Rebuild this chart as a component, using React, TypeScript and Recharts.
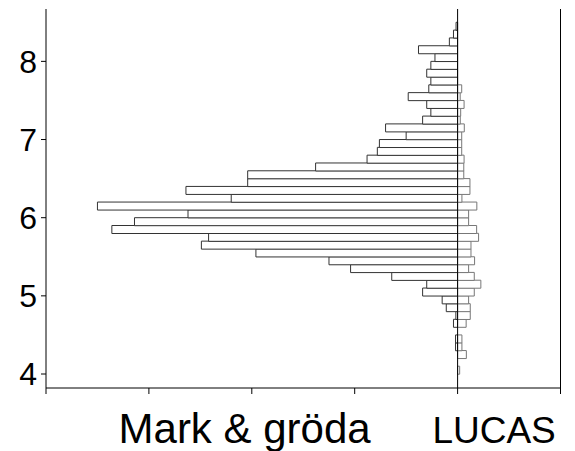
import React from 'react';
import { BarChart, Bar, XAxis, YAxis, ReferenceLine } from 'recharts';

// pH bins (lower bound), 0.1 wide
const binStarts = [
  4.0, 4.1, 4.2, 4.3, 4.4, 4.5, 4.6, 4.7, 4.8, 4.9,
  5.0, 5.1, 5.2, 5.3, 5.4, 5.5, 5.6, 5.7, 5.8, 5.9,
  6.0, 6.1, 6.2, 6.3, 6.4, 6.5, 6.6, 6.7, 6.8, 6.9,
  7.0, 7.1, 7.2, 7.3, 7.4, 7.5, 7.6, 7.7, 7.8, 7.9,
  8.0, 8.1, 8.2, 8.3, 8.4,
];

// left side: "Mark & gröda"
const markGroda = [
  0, 0, 0, 0.2, 0.2, 0, 0.4, 0.17, 1.1, 1.5,
  3.4, 3.0, 6.4, 10.4, 12.5, 19.6, 24.9, 24.2, 33.6, 31.4,
  26.2, 35.0, 22.0, 26.4, 20.4, 20.4, 13.8, 8.8, 7.8, 7.6,
  5.0, 7.0, 3.4, 2.6, 3.0, 4.8, 2.8, 2.6, 3.0, 2.6,
  2.2, 3.8, 0.8, 0.4, 0.15,
];

// right side: "LUCAS"
const lucas = [
  0.2, 0, 0.85, 0.42, 0.42, 0, 0.83, 1.23, 1.23, 1.07,
  1.62, 2.26, 1.62, 1.07, 1.65, 1.3, 1.3, 2.04, 1.85, 1.07,
  1.07, 1.87, 0.42, 1.2, 1.2, 0.6, 0.6, 0.63, 0.4, 0.4,
  0.4, 0.65, 0.26, 0.3, 0.63, 0.25, 0.4, 0, 0, 0,
  0, 0, 0, 0, 0,
];

const yTicks = [4, 5, 6, 7, 8];
const xTicks = [-40, -30, -20, -10, 0, 10];
const groupLabels = ['Mark & gröda', 'LUCAS'];

const data = binStarts.map((b, i) => ({
  bin: Math.round((b + 0.05) * 100) / 100,
  mark: -markGroda[i],
  lucas: lucas[i],
}));

const FONT = '"Liberation Sans", Arial, Helvetica, sans-serif';
const labelCenters = [-20.7, 3.55];
const labelSizes = [42, 37];

const GroupLabelTick = (props: any) => {
  const { x, y, payload } = props;
  let idx = labelCenters.indexOf(payload?.value);
  if (idx < 0) idx = props.index ?? 0;
  return (
    <text
      x={x}
      y={y + 47}
      textAnchor="middle"
      fontFamily={FONT}
      fontSize={labelSizes[idx]}
      fill="#000"
    >
      {groupLabels[idx]}
    </text>
  );
};

export default function App() {
  return (
    <div style={{ position: 'absolute', left: 0, top: 0, width: 575, height: 451, background: '#fff' }}>
      <BarChart
        width={575}
        height={451}
        data={data}
        layout="vertical"
        stackOffset="sign"
        barCategoryGap={0}
        barGap={0}
        margin={{ top: 9, right: 14.5, left: 0, bottom: 0 }}
        style={{ fontFamily: FONT }}
      >
        <XAxis
          xAxisId="a"
          type="number"
          domain={[-40, 10]}
          ticks={xTicks}
          tickFormatter={() => ''}
          tickSize={6}
          height={8}
          stroke="#000"
          tickLine={{ stroke: '#000' }}
          allowDataOverflow
        />
        <XAxis
          xAxisId="b"
          type="number"
          domain={[-40, 10]}
          ticks={labelCenters}
          interval={0}
          axisLine={false}
          tickLine={false}
          tickSize={0}
          tickMargin={0}
          height={55}
          tick={<GroupLabelTick />}
          allowDataOverflow
        />
        <YAxis
          type="number"
          dataKey="bin"
          domain={[3.821, 8.67]}
          ticks={yTicks}
          width={46}
          tickSize={5}
          tickMargin={4}
          reversed
          stroke="#000"
          allowDataOverflow
          tick={{ fill: '#000', fontSize: 32, fontFamily: FONT }}
        />
        <Bar xAxisId="a" dataKey="mark" stackId="s" fill="#fff" stroke="#333" strokeWidth={1} isAnimationActive={false} />
        <Bar xAxisId="a" dataKey="lucas" stackId="s" fill="#fff" stroke="#777" strokeWidth={1} isAnimationActive={false} />
        <ReferenceLine xAxisId="a" x={0} stroke="#000" strokeWidth={1} />
        <ReferenceLine xAxisId="a" x={10} stroke="#000" strokeWidth={1} />
      </BarChart>
    </div>
  );
}
